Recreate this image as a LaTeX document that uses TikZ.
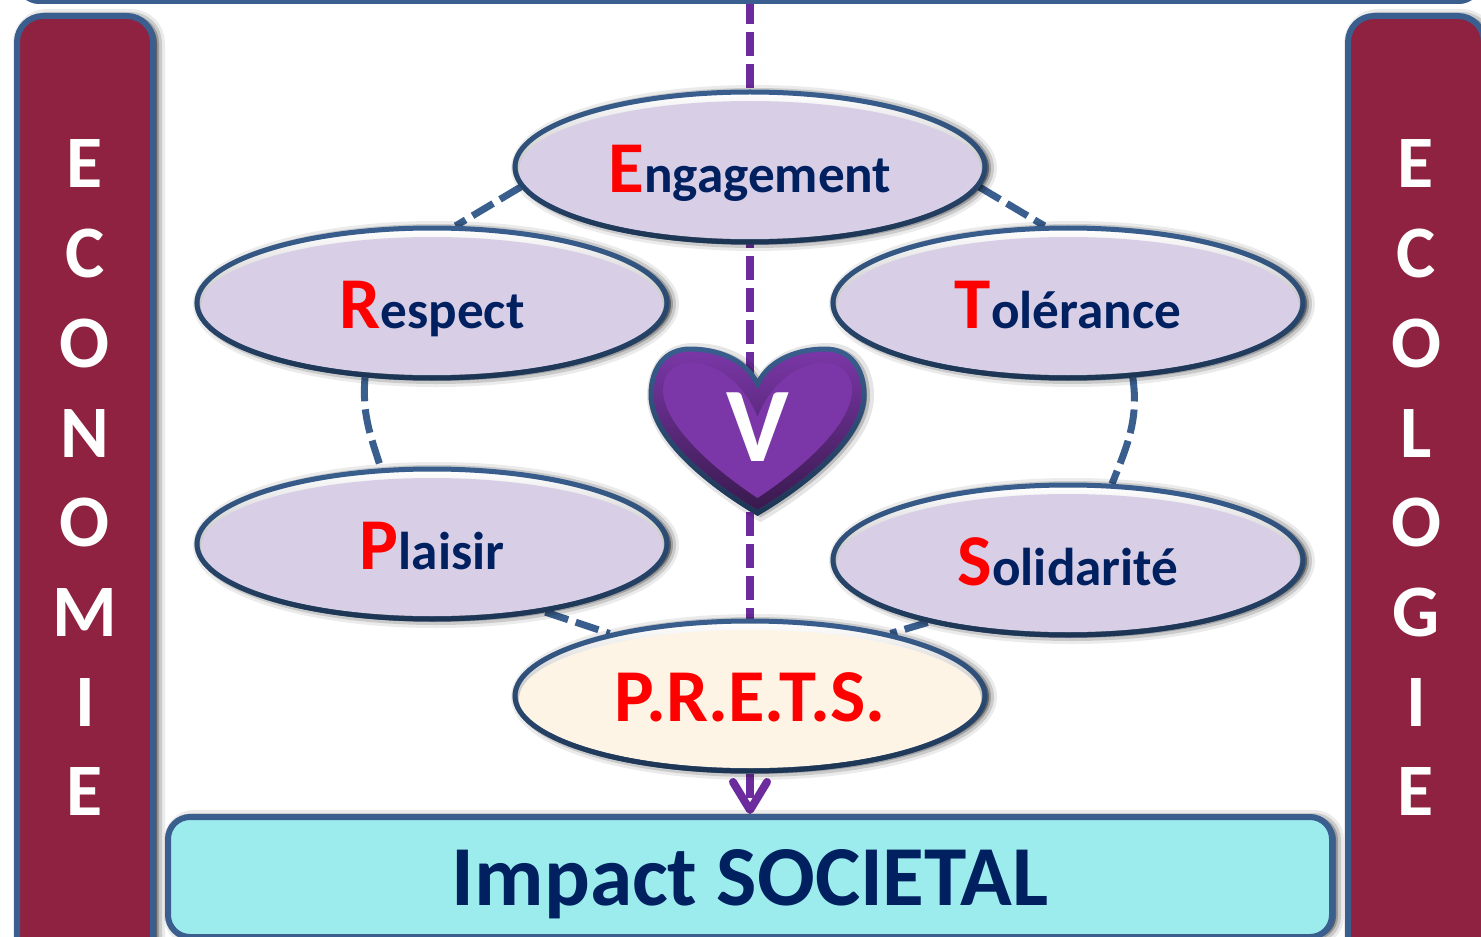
\documentclass[tikz,border=0pt]{standalone}
\usepackage{fontspec}
\setmainfont{Carlito}
\usepackage{xcolor}
\usetikzlibrary{shapes.geometric,shadows,backgrounds,arrows.meta,fadings}

\definecolor{linkblue}{HTML}{3A5F8F}
\definecolor{darkedge}{HTML}{1D3553}
\definecolor{navytext}{HTML}{002060}
\definecolor{winered}{HTML}{8E2240}
\definecolor{valuepurple}{HTML}{6D2C9E}
\definecolor{heartface}{HTML}{7B37A8}
\definecolor{lavender}{HTML}{D8CFE7}
\definecolor{cream}{HTML}{FDF4E6}
\definecolor{aqua}{HTML}{9CECEE}

\tikzfading[name=edgefade, top color=transparent!100, bottom color=transparent!0]

\tikzset{
  softshadow/.style={
    general shadow={draw=black,fill=black,line width=8pt,opacity=.08,shadow xshift=2pt,shadow yshift=-.5pt},
    general shadow={draw=black,fill=black,line width=5pt,opacity=.14,shadow xshift=2pt,shadow yshift=-.5pt},
    general shadow={draw=black,fill=black,line width=2pt,opacity=.22,shadow xshift=2pt,shadow yshift=-.5pt}},
  value/.style={ellipse,softshadow,draw=linkblue,line width=2.5pt,
    minimum width=235pt,minimum height=75pt,inner sep=0pt,
    top color=white,middle color=#1!15!white,bottom color=black!45,
    text height=25pt,text depth=0pt,font=\bfseries\fontsize{26.6}{26.6}\selectfont,text=navytext,
    path picture={\fill[#1] ([yshift=-1.5pt]path picture bounding box.center) ellipse [x radius=115.5pt,y radius=34.5pt];},
    postaction={draw=darkedge,line width=2.5pt,path fading=edgefade}},
  sidepanel/.style={rectangle,rounded corners=13pt,softshadow,draw=linkblue,line width=3pt,fill=winered,
    minimum width=68pt,minimum height=480pt},
  sideletter/.style={text=white,font=\bfseries\fontsize{37}{37}\selectfont},
  ringlink/.style={draw=linkblue,line width=3.5pt,dash pattern=on 12pt off 4pt},
  valueline/.style={draw=valuepurple,line width=4pt,dash pattern=on 12pt off 4pt}
}
\newcommand{\redinitial}[2]{{\color{red}\fontsize{36.5}{36.5}\selectfont #1}#2}

\begin{document}
\begin{tikzpicture}[x=0.5pt,y=-0.5pt]
  \useasboundingbox (0,0) rectangle (1481,936);
  \clip (0,0) rectangle (1481,936);
  % frame cut off by the top edge
  \node[rectangle,rounded corners=10pt,draw=linkblue,line width=3pt,minimum width=730pt,minimum height=60pt] (topframe) at (749,-59) {};
  % side panels
  \node[sidepanel] (economie) at (85,496) {};
  \node[sidepanel] (ecologie) at (1416,496) {};
  \foreach \letter [count=\i] in {E,C,O,N,O,M,I,E}
    \node[sideletter] (ecoletter\i) at ({85},{164+(\i-1)*89.7}) {\letter};
  \foreach \letter [count=\i] in {E,C,O,L,O,G,I,E}
    \node[sideletter] (ecolletter\i) at ({1416},{164+(\i-1)*89.7}) {\letter};
  % bottom box
  \node[rectangle,rounded corners=11pt,softshadow,draw=linkblue,line width=3pt,fill=aqua,
    minimum width=582pt,minimum height=60pt,text height=28pt,text depth=0pt,
    text=navytext,font=\bfseries\fontsize{42.7}{42.7}\selectfont] (impact) at (750,877) {Impact SOCIETAL};
  % values
  \node[value=lavender] (engagement) at (750,167) {\redinitial{E}{ngagement}};
  \node[value=lavender] (respect)    at (432,303) {\redinitial{R}{espect}};
  \node[value=lavender] (tolerance)  at (1068,303) {\redinitial{T}{olérance}};
  \node[value=lavender] (plaisir)    at (432,544) {\redinitial{P}{laisir}};
  \node[value=lavender] (solidarite) at (1068,560) {\redinitial{S}{olidarité}};
  \node[value=cream,text=red,font=\bfseries\fontsize{37.3}{37.3}\selectfont] (prets) at (750,696) {P.R.E.T.S.};
  % heart
  \draw[linkblue,line width=2.5pt,top color=heartface,bottom color=heartface!45!black,
    general shadow={draw=black,fill=black,line width=7pt,opacity=.10,shadow xshift=1.5pt,shadow yshift=-.5pt},
    general shadow={draw=black,fill=black,line width=3pt,opacity=.18,shadow xshift=1.5pt,shadow yshift=-.5pt},
    postaction={draw=darkedge,line width=2.5pt,path fading=edgefade}]
    (757.5,384) .. controls (745,358) and (715,349) .. (690,349)
    .. controls (665,349) and (651,368) .. (651,395)
    .. controls (651,440) and (715,488) .. (757.5,513)
    .. controls (800,488) and (864,440) .. (864,395)
    .. controls (864,368) and (850,349) .. (825,349)
    .. controls (800,349) and (770,358) .. (757.5,384) -- cycle;
  \fill[heartface]
    (757.5,417) .. controls (745,385) and (718,363) .. (692,363)
    .. controls (672,363) and (663,375) .. (663,390)
    .. controls (663,425) and (715,470) .. (757.5,498)
    .. controls (800,470) and (852,425) .. (852,390)
    .. controls (852,375) and (843,363) .. (823,363)
    .. controls (797,363) and (770,385) .. (757.5,417) -- cycle;
  \node[text=white,font=\bfseries\fontsize{53}{53}\selectfont] (vletter) at (758,427) {V};
  % links behind the values
  \begin{scope}[on background layer]
    \coordinate (topedge) at (750,0);
    \draw[valueline] (topedge) -- (prets.north);
    \draw[valueline,-{Straight Barb[length=14pt,width=17pt,round]}] (prets.south) -- (impact.north);
    \draw[ringlink] (engagement.185) -- (respect.73);
    \draw[ringlink] (engagement.-5) -- (tolerance.107);
    \draw[ringlink] (respect.228) to[out=-95,in=108] (plaisir.124);
    \draw[ringlink] (tolerance.-49) to[out=-82,in=68] (solidarite.60);
    \draw[ringlink] (plaisir.-31) -- (prets.156);
    \draw[ringlink] (solidarite.204) -- (prets.24);
  \end{scope}
\end{tikzpicture}
\end{document}
